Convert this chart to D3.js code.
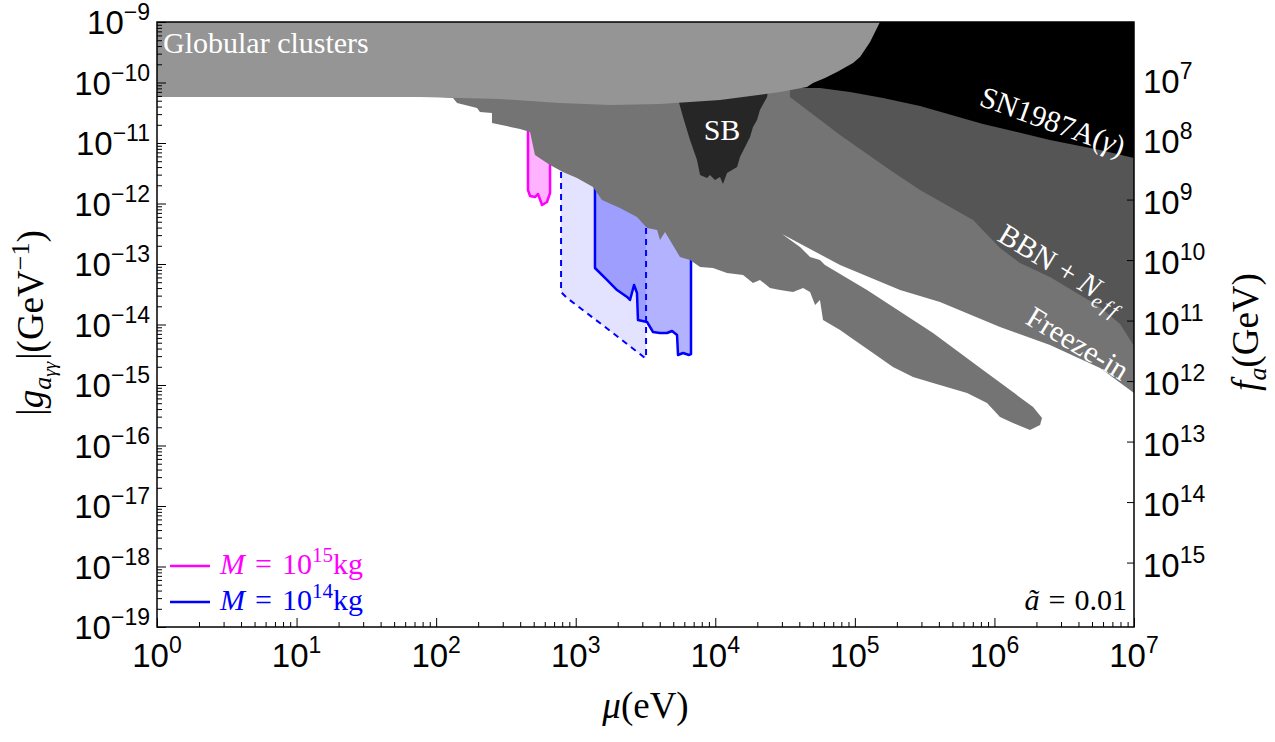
<!DOCTYPE html>
<html>
<head>
<meta charset="utf-8">
<script src="https://cdn.jsdelivr.net/npm/d3@7"></script>
<style>
  body { margin: 0; background: #fff; }
  text { font-family: "Liberation Serif", "Times New Roman", serif; }
  .tick-label { font-family: "Liberation Sans", Arial, Helvetica, sans-serif; }
</style>
</head>
<body>
<div id="chart"></div>
<script>
// axis decades
const xDecades = [0, 1, 2, 3, 4, 5, 6, 7];
const yDecades = [-19, -18, -17, -16, -15, -14, -13, -12, -11, -10, -9];
const faDecades = [7, 8, 9, 10, 11, 12, 13, 14, 15];

// all boundaries are [log10(mu / eV), log10(|g| / GeV^-1)]
const globularClusters = [
  [0, -9], [5.18, -9], [5.109, -9.331], [5.037, -9.579], [4.987, -9.678],
  [4.872, -9.826], [4.786, -9.926], [4.70, -10.008], [4.657, -10.074],
  [4.464, -10.157], [4.034, -10.289], [3.604, -10.355], [3.246, -10.372],
  [2.887, -10.339], [2.458, -10.273], [1.884, -10.24], [0, -10.24]
];

const sn1987a = [
  [4.607, -9], [7, -9], [7, -11.248], [6.757, -11.116], [6.398, -10.95],
  [5.918, -10.686], [5.467, -10.388], [5.202, -10.256], [4.965, -10.157],
  [4.75, -10.091], [4.607, -10.091]
];

const bbnNeff = [
  [4.535, -9], [7, -9], [7, -14.355], [6.90, -13.992], [6.757, -13.711],
  [6.398, -13.215], [6.183, -12.983], [6.04, -12.736], [5.847, -12.273],
  [5.467, -11.777], [5.252, -11.446], [4.894, -10.868], [4.535, -10.24]
];

// stellar / x-ray bounds with the freeze-in band (same shade)
const stellarFreezeIn = [
  [2.028, -10.124], [2.028, -10.24], [2.121, -10.256], [2.15, -10.339],
  [2.293, -10.421], [2.314, -10.488], [2.40, -10.504], [2.40, -10.669],
  [2.601, -10.769], [2.673, -10.818], [2.708, -11.198], [2.816, -11.364],
  [2.909, -11.479], [3.009, -11.579], [3.124, -11.727], [3.188, -11.942],
  [3.317, -12.074], [3.439, -12.223], [3.511, -12.405], [3.583, -12.438],
  [3.604, -12.603], [3.64, -12.471], [3.747, -12.884], [3.819, -12.934],
  [3.891, -13.05], [3.984, -13.066], [4.084, -13.149], [4.199, -13.182],
  [4.27, -13.314], [4.32, -13.264], [4.392, -13.397], [4.464, -13.43],
  [4.557, -13.463], [4.629, -13.397], [4.679, -13.463], [4.715, -13.678],
  [4.75, -13.595], [4.772, -13.926], [4.894, -14.091], [4.965, -14.207],
  [5.13, -14.471], [5.273, -14.702], [5.417, -14.868], [5.56, -14.967],
  [5.804, -15.132], [5.947, -15.298], [6.04, -15.529], [6.133, -15.628],
  [6.255, -15.744], [6.327, -15.661], [6.341, -15.545], [6.277, -15.364],
  [5.918, -14.752], [5.56, -14.141], [5.087, -13.43], [4.786, -13.017],
  [4.75, -12.934], [4.679, -12.884], [4.607, -12.719], [4.478, -12.504],
  [4.894, -13.017], [5.324, -13.43], [5.61, -13.628], [6.04, -14.041],
  [6.398, -14.339], [6.757, -14.719], [7, -15.132], [7, -10.124]
];

const starBurst = [
  [3.719, -10.157], [3.769, -10.57], [3.819, -10.95], [3.869, -11.281],
  [3.891, -11.529], [3.941, -11.579], [3.962, -11.529], [3.998, -11.612],
  [4.034, -11.562], [4.055, -11.678], [4.084, -11.496], [4.156, -11.397],
  [4.177, -11.231], [4.249, -10.901], [4.27, -10.736], [4.299, -10.62],
  [4.32, -10.455], [4.371, -10.24], [4.378, -10.124]
];

// PBH bounds
const pbh15 = [
  [2.658, -10.62], [2.658, -11.777], [2.673, -11.876], [2.708, -11.893],
  [2.73, -11.843], [2.759, -12.025], [2.794, -11.975], [2.816, -11.826],
  [2.816, -10.62]
];

const pbh14Dashed = [
  [2.895, -11.116], [2.895, -13.463], [2.938, -13.562], [3.267, -14.141],
  [3.497, -14.554], [3.504, -14.554], [3.504, -11.942]
];

const pbh14 = [
  [3.138, -11.116], [3.138, -13.066], [3.224, -13.264], [3.296, -13.43],
  [3.368, -13.545], [3.389, -13.595], [3.418, -13.347], [3.439, -13.479],
  [3.446, -13.926], [3.511, -13.959], [3.554, -14.124], [3.604, -14.141],
  [3.654, -14.141], [3.69, -14.107], [3.726, -14.174], [3.733, -14.504],
  [3.769, -14.471], [3.812, -14.504], [3.826, -14.488], [3.826, -11.116]
];

const ALPHA_2PI = 1 / 137.036 / (2 * Math.PI);

const W = 1275, H = 742;
const margin = {top: 22, right: 141, bottom: 115, left: 157},
      width = W - margin.left - margin.right,
      height = H - margin.top - margin.bottom;

const svg = d3.select("#chart")
  .append("svg")
  .attr("width", W)
  .attr("height", H);

const g = svg.append("g")
  .attr("transform", `translate(${margin.left}, ${margin.top})`);

const x = d3.scaleLog().domain([1, 1e7]).range([0, width]);
const y = d3.scaleLog().domain([1e-19, 1e-9]).range([height, 0]);

const line = d3.line()
  .x(d => x(Math.pow(10, d[0])))
  .y(d => y(Math.pow(10, d[1])));

g.append("clipPath").attr("id", "plotClip")
  .append("rect").attr("width", width).attr("height", height);

const regions = g.append("g").attr("clip-path", "url(#plotClip)");

function area(pts, fill, stroke, sw, dash) {
  return regions.append("path")
    .attr("d", line(pts) + "Z")
    .attr("fill", fill)
    .attr("stroke", stroke || "none")
    .attr("stroke-width", sw || 0)
    .attr("stroke-dasharray", dash || null)
    .attr("stroke-linejoin", "round");
}

// PBH regions first, the grey bounds hide their tops
area(pbh15, "rgba(255,0,255,0.3)", "#ff00ff", 2.5);
area(pbh14Dashed, "rgba(0,0,255,0.11)", "#0000ff", 2, "6,5");
area(pbh14, "rgba(0,0,255,0.3)", "#0000ff", 2.5);

area(stellarFreezeIn, "#747474");
area(bbnNeff, "#555555");
area(sn1987a, "#000000");
area(starBurst, "#262626");
area(globularClusters, "#959595");

// region labels
const lab = svg.append("g").attr("fill", "#fff").attr("font-size", 30);
lab.append("text").attr("x", 163).attr("y", 53).text("Globular clusters");
lab.append("text").attr("x", 722).attr("y", 140).attr("text-anchor", "middle").text("SB");
lab.append("text")
  .attr("transform", "translate(1053,121) rotate(20)")
  .attr("text-anchor", "middle").attr("dy", "0.35em")
  .html('SN1987A(<tspan font-style="italic">γ</tspan>)');
const bbn = lab.append("text")
  .attr("transform", "translate(1063,268) rotate(31)")
  .attr("text-anchor", "middle").attr("dy", "0.35em");
bbn.append("tspan").text("BBN + ");
bbn.append("tspan").attr("font-style", "italic").text("N");
bbn.append("tspan").attr("font-style", "italic").attr("font-size", 21).attr("dy", 7)
  .attr("letter-spacing", 3).text("eff");
lab.append("text")
  .attr("transform", "translate(1078,343) rotate(31)")
  .attr("text-anchor", "middle").attr("dy", "0.35em")
  .text("Freeze-in");

// ticks
const xMinor = [], yMinor = [];
xDecades.slice(0, -1).forEach(d => { for (let k = 2; k < 10; k++) xMinor.push(k * Math.pow(10, d)); });
yDecades.slice(0, -1).forEach(d => { for (let k = 2; k < 10; k++) yMinor.push(k * Math.pow(10, d)); });

function tickAxis(axis, transform) {
  const a = g.append("g").attr("transform", transform || null).call(axis);
  a.select(".domain").remove();
  a.selectAll("line").attr("stroke", "#000").attr("stroke-width", 1);
  a.selectAll("text").remove();
  return a;
}

tickAxis(d3.axisBottom(x).tickValues(xMinor).tickSize(-5), `translate(0,${height})`);
tickAxis(d3.axisBottom(x).tickValues(xDecades.map(d => Math.pow(10, d))).tickSize(-9), `translate(0,${height})`);
tickAxis(d3.axisLeft(y).tickValues(yMinor).tickSize(-5));
tickAxis(d3.axisLeft(y).tickValues(yDecades.map(d => Math.pow(10, d))).tickSize(-9));
tickAxis(d3.axisRight(y).tickValues(faDecades.map(d => ALPHA_2PI / Math.pow(10, d))).tickSize(-7),
  `translate(${width},0)`);

// frame
g.append("rect")
  .attr("width", width).attr("height", height)
  .attr("fill", "none").attr("stroke", "#000").attr("stroke-width", 1.5);

// tick labels
function powText(sel, e) {
  sel.append("tspan").text("10");
  sel.append("tspan").attr("font-size", 23).attr("dy", -14)
    .text(e < 0 ? "\u2212" + (-e) : e);
}

xDecades.forEach(d => {
  const t = g.append("text").attr("class", "tick-label")
    .attr("x", x(Math.pow(10, d))).attr("y", height + 40)
    .attr("text-anchor", "middle").attr("font-size", 33);
  powText(t, d);
});

yDecades.forEach(d => {
  const t = g.append("text").attr("class", "tick-label")
    .attr("x", -7).attr("y", y(Math.pow(10, d)) + 12)
    .attr("text-anchor", "end").attr("font-size", 33);
  powText(t, d);
});

faDecades.forEach(d => {
  const t = g.append("text").attr("class", "tick-label")
    .attr("x", width + 9).attr("y", y(ALPHA_2PI / Math.pow(10, d)) + 14)
    .attr("font-size", 33);
  powText(t, d);
});

// axis titles
svg.append("text")
  .attr("x", margin.left + width / 2).attr("y", 718)
  .attr("text-anchor", "middle").attr("font-size", 37)
  .html('<tspan font-style="italic">μ</tspan>(eV)');

const yt = svg.append("text")
  .attr("transform", "translate(43,323) rotate(-90)")
  .attr("text-anchor", "middle").attr("font-size", 37);
yt.append("tspan").text("|");
yt.append("tspan").attr("font-style", "italic").text("g");
yt.append("tspan").attr("font-style", "italic").attr("font-size", 26).attr("dy", 8).text("a");
yt.append("tspan").attr("font-style", "italic").attr("font-size", 19).attr("dy", 5).text("γγ");
yt.append("tspan").attr("dy", -13).attr("dx", 2).text("|(GeV");
yt.append("tspan").attr("font-size", 26).attr("dy", -14).text("\u22121");
yt.append("tspan").attr("dy", 14).text(")");

const ft = svg.append("text")
  .attr("transform", "translate(1258,332) rotate(-90)")
  .attr("text-anchor", "middle").attr("font-size", 37);
ft.append("tspan").attr("font-style", "italic").text("f");
ft.append("tspan").attr("font-style", "italic").attr("font-size", 26).attr("dy", 8).text("a");
ft.append("tspan").attr("dy", -8).text("(GeV)");

// legend
const legend = [
  {color: "#ff00ff", exp: "15"},
  {color: "#0000ff", exp: "14"}
];
legend.forEach((l, i) => {
  const yy = 544 + i * 36;
  g.append("line")
    .attr("x1", 13).attr("x2", 53).attr("y1", yy).attr("y2", yy)
    .attr("stroke", l.color).attr("stroke-width", 2.5);
  const t = g.append("text")
    .attr("x", 63).attr("y", yy + 8)
    .attr("fill", l.color).attr("font-size", 30);
  t.append("tspan").attr("font-style", "italic").text("M");
  t.append("tspan").attr("dx", 10).text("=");
  t.append("tspan").attr("dx", 10).text("10");
  t.append("tspan").attr("font-size", 21).attr("dy", -12).text(l.exp);
  t.append("tspan").attr("dy", 12).text("kg");
});

const at = g.append("text")
  .attr("x", width - 7).attr("y", height - 17)
  .attr("text-anchor", "end").attr("font-size", 30);
at.append("tspan").attr("font-style", "italic").text("ã");
at.append("tspan").attr("dx", 9).text("=");
at.append("tspan").attr("dx", 9).text("0.01");
</script>
</body>
</html>
